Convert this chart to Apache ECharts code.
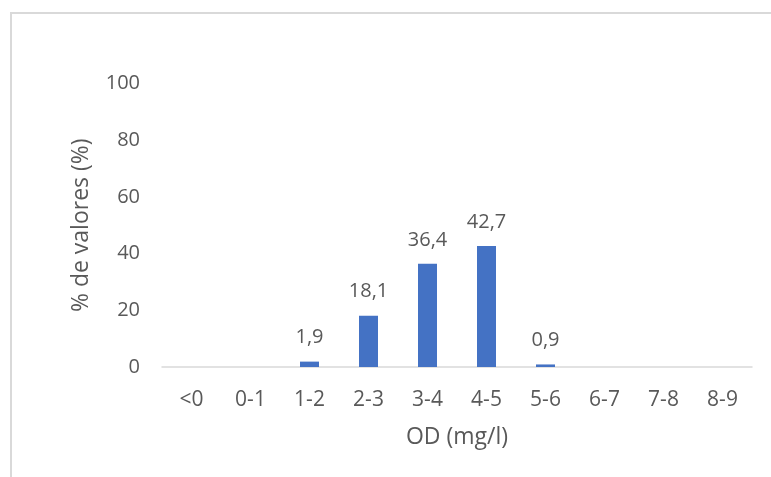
<!DOCTYPE html>
<html>
<head>
<meta charset="utf-8">
<title>OD (mg/l)</title>
<script src="https://cdn.jsdelivr.net/npm/echarts@6/dist/echarts.min.js"></script>
<style>
  html, body { margin: 0; padding: 0; background: #ffffff; }
  #chart { width: 771px; height: 477px; }
</style>
</head>
<body>
<div id="chart"></div>
<script>
// Distribution of dissolved oxygen readings by class
const categories = ['<0', '0-1', '1-2', '2-3', '3-4', '4-5', '5-6', '6-7', '7-8', '8-9'];
const percentages = [0, 0, 1.9, 18.1, 36.4, 42.7, 0.9, 0, 0, 0];
const yTicks = [0, 20, 40, 60, 80, 100];

const textColor = '#595959';
const fontFamily = '"Open Sans", "Noto Sans", sans-serif';

const chart = echarts.init(document.getElementById('chart'), null, { renderer: 'canvas' });

chart.setOption({
  animation: false,
  backgroundColor: '#ffffff',
  textStyle: { fontFamily: fontFamily, color: textColor },
  graphic: [{
    type: 'rect',
    shape: { x: 11, y: 13, width: 800, height: 520 },
    style: { fill: 'none', stroke: '#d9d9d9', lineWidth: 2 },
    silent: true,
    z: -10
  }],
  grid: { left: 162, right: 19, top: 83.5, bottom: 110 },
  xAxis: {
    type: 'category',
    data: categories,
    name: 'OD (mg/l)',
    nameLocation: 'middle',
    nameGap: 59,
    nameTextStyle: { fontSize: 23, color: textColor, fontFamily: fontFamily, lineHeight: 23 },
    axisLine: { show: true, lineStyle: { color: '#d9d9d9', width: 1.5 } },
    axisTick: { show: false },
    axisLabel: { fontSize: 21, color: textColor, fontFamily: fontFamily, margin: 23, lineHeight: 20 }
  },
  yAxis: {
    type: 'value',
    min: yTicks[0],
    max: yTicks[yTicks.length - 1],
    interval: yTicks[1] - yTicks[0],
    name: '% de valores (%)',
    nameLocation: 'middle',
    nameGap: 69,
    nameTextStyle: { fontSize: 23, color: textColor, fontFamily: fontFamily, lineHeight: 23 },
    axisLine: { show: false },
    axisTick: { show: false },
    splitLine: { show: false },
    axisLabel: { fontSize: 20, color: textColor, fontFamily: fontFamily, margin: 22, lineHeight: 20 }
  },
  series: [{
    type: 'bar',
    data: percentages,
    barWidth: 19,
    itemStyle: { color: '#4472c4' },
    label: {
      show: true,
      position: 'top',
      distance: 14,
      fontSize: 20,
      lineHeight: 20,
      color: textColor,
      fontFamily: fontFamily,
      formatter: p => (p.value ? p.value.toFixed(1).replace('.', ',') : '')
    }
  }]
});
</script>
</body>
</html>
